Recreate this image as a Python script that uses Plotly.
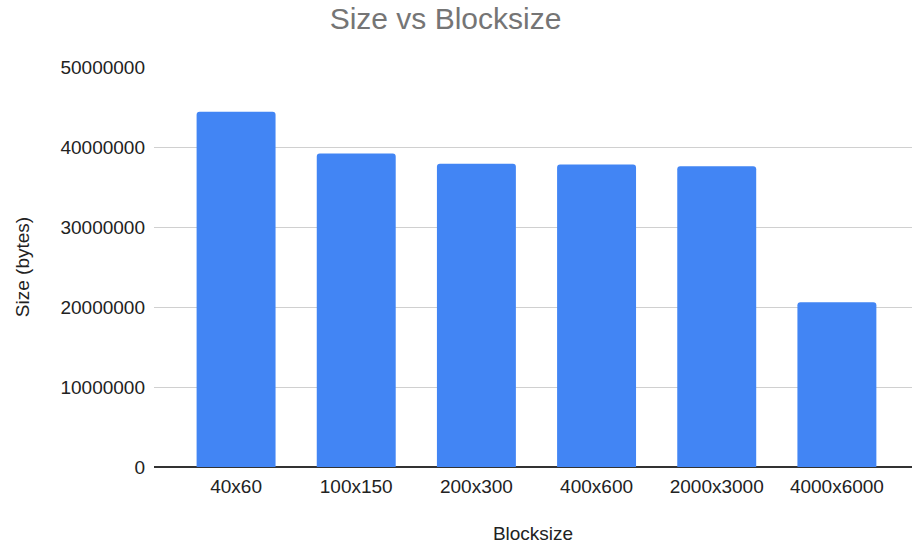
import plotly.graph_objects as go

categories = ["40x60", "100x150", "200x300", "400x600", "2000x3000", "4000x6000"]
sizes = [44400000, 39200000, 37900000, 37800000, 37600000, 20600000]
y_ticks = [0, 10000000, 20000000, 30000000, 40000000, 50000000]
y_tick_labels = [str(v) for v in y_ticks]

FONT = "Liberation Sans, Arial, sans-serif"

fig = go.Figure(
    go.Bar(
        x=categories,
        y=sizes,
        marker=dict(color="#4285F4", cornerradius=3, line=dict(width=0)),
        hoverinfo="x+y",
    )
)

fig.update_layout(
    width=914,
    height=546,
    margin=dict(l=154, r=2, t=67, b=79, pad=0),
    paper_bgcolor="white",
    plot_bgcolor="white",
    bargap=0.343,
    showlegend=False,
    font=dict(family=FONT, size=19, color="#222222"),
    title=dict(
        text="Size vs Blocksize",
        font=dict(family=FONT, size=30, color="#757575"),
        x=445.5 / 914,
        xref="container",
        xanchor="center",
        y=1 - 8 / 546,
        yref="container",
        yanchor="top",
    ),
    xaxis=dict(
        type="category",
        range=[-0.683, 5.625],
        showgrid=False,
        showline=False,
        ticks="",
        ticklabelstandoff=6,
        tickfont=dict(family=FONT, size=19, color="#222222"),
        title=dict(text="Blocksize", font=dict(family=FONT, size=19, color="#222222"), standoff=30),
    ),
    yaxis=dict(
        range=[0, 50000000],
        tickvals=y_ticks,
        ticktext=y_tick_labels,
        showgrid=True,
        gridcolor="#d0d0d0",
        gridwidth=1,
        zeroline=True,
        zerolinecolor="#333333",
        zerolinewidth=1.5,
        ticks="",
        ticklabelstandoff=8,
        tickfont=dict(family=FONT, size=19, color="#222222"),
        title=dict(text="Size (bytes)", font=dict(family=FONT, size=19, color="#222222"), standoff=25),
    ),
)

fig.write_html("out.html")
